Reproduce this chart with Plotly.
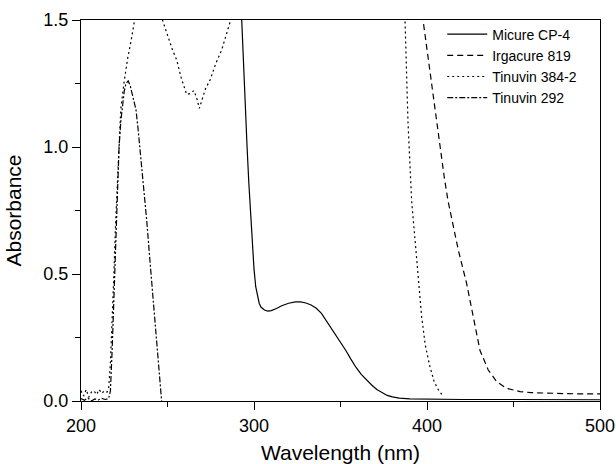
import plotly.graph_objects as go

# Micure CP-4 (solid)
micure_x = [280, 290, 292.9, 294, 295, 296, 297, 298, 299, 300, 301, 302, 303, 304, 306, 308, 310,
            313, 316, 320, 324, 327, 330, 333, 336, 339, 342, 345, 348, 350, 353, 356, 359, 362,
            365, 368, 371, 374, 377, 380, 384, 390, 400, 420, 450, 480, 500]
micure_y = [2.5, 1.8, 1.5, 1.3, 1.15, 1.0, 0.86, 0.74, 0.62, 0.52, 0.45, 0.41, 0.385, 0.37, 0.358,
            0.354, 0.356, 0.364, 0.375, 0.385, 0.39, 0.39, 0.386, 0.378, 0.365, 0.345, 0.315, 0.285,
            0.255, 0.235, 0.2, 0.165, 0.132, 0.105, 0.082, 0.063, 0.045, 0.032, 0.022, 0.016, 0.011,
            0.008, 0.007, 0.006, 0.006, 0.005, 0.005]

# Irgacure 819 (dashed)
irg_x = [380, 390, 397.7, 402, 406, 410, 412.1, 415, 418.1, 422.9, 426.8, 430.6, 435.4, 440.3,
         446, 453.8, 460, 469.2, 480, 490, 500]
irg_y = [2.5, 1.9, 1.5, 1.28, 1.08, 0.88, 0.79, 0.69, 0.594, 0.463, 0.332, 0.2, 0.122, 0.076,
         0.05, 0.037, 0.033, 0.03, 0.029, 0.028, 0.028]

# Tinuvin 384-2 (dotted)
t384_x = [200, 201.5, 203, 204.5, 206, 207.5, 209, 210.5, 212, 213.5, 215, 216, 217, 218, 219,
          220, 221, 222, 223, 225, 227, 229, 231, 233, 236, 240, 244, 247.2, 250, 253, 255.3,
          258, 261.1, 263, 265.3, 267, 268.4, 270, 272, 274.6, 278, 281.3, 284, 286.1, 288,
          291, 300, 350, 385, 387.3, 389, 391.1, 393.6, 396.9, 399, 401.7, 404, 406, 409.1]
t384_y = [0.04, 0.02, 0.045, 0.015, 0.035, 0.04, 0.025, 0.045, 0.03, 0.04, 0.035, 0.05, 0.15, 0.3,
          0.5, 0.7, 0.87, 1.02, 1.15, 1.26, 1.35, 1.42, 1.5, 1.58, 1.7, 1.75, 1.65, 1.497, 1.44,
          1.38, 1.343, 1.27, 1.207, 1.21, 1.222, 1.19, 1.152, 1.19, 1.23, 1.264, 1.33, 1.382,
          1.44, 1.49, 1.55, 1.7, 2.0, 2.0, 1.7, 1.5, 1.1, 0.79, 0.594, 0.332, 0.22, 0.135, 0.08,
          0.05, 0.021]

# Tinuvin 292 (dash-dot)
t292_x = [200, 202, 204, 206, 208, 210, 212, 214, 216, 217, 218, 219, 220, 221, 222, 223, 224,
          225, 226, 227.3, 228.5, 230, 231.8, 233, 234, 235, 236, 237, 238, 240, 242, 244, 246,
          246.6]
t292_y = [0.01, 0.003, 0.012, 0.0, 0.008, 0.004, 0.01, 0.006, 0.01, 0.04, 0.2, 0.42, 0.64, 0.85,
          1.0, 1.1, 1.17, 1.22, 1.25, 1.26, 1.24, 1.2, 1.146, 1.07, 1.0, 0.92, 0.85, 0.79, 0.71,
          0.54, 0.38, 0.21, 0.05, 0.0]

series = [
    ("Micure CP-4", micure_x, micure_y, "solid"),
    ("Irgacure 819", irg_x, irg_y, "6px,4px"),
    ("Tinuvin 384-2", t384_x, t384_y, "2px,3px"),
    ("Tinuvin 292", t292_x, t292_y, "6px,2px,2px,2px"),
]

fig = go.Figure()
for name, xs, ys, dash in series:
    fig.add_trace(go.Scatter(x=xs, y=ys, mode="lines", name=name,
                             line=dict(color="black", width=1.2, dash=dash)))

axis_common = dict(showline=True, linecolor="black", linewidth=1.3, mirror=True,
                   ticks="outside", ticklen=8, tickwidth=1.3, tickcolor="black",
                   showgrid=False, zeroline=False, automargin=False,
                   tickfont=dict(size=18, color="black"),
                   title_font=dict(size=21, color="black"))

fig.update_xaxes(range=[200, 500], tick0=200, dtick=100,
                 minor=dict(ticks="outside", ticklen=5, tickwidth=1.3, tickcolor="black",
                            tick0=200, dtick=50),
                 title_text="Wavelength (nm)", **axis_common)
fig.update_yaxes(range=[0, 1.5], tick0=0, dtick=0.5, tickformat=".1f",
                 minor=dict(ticks="outside", ticklen=5, tickwidth=1.3, tickcolor="black",
                            tick0=0, dtick=0.25),
                 title_text="Absorbance", **axis_common)

fig.update_layout(
    width=616, height=464,
    margin=dict(l=81, r=16, t=20, b=63, autoexpand=False),
    paper_bgcolor="white", plot_bgcolor="white",
    font=dict(family="Liberation Sans, Arial, sans-serif", color="black"),
    legend=dict(x=0.696, y=1.004, xanchor="left", yanchor="top",
                font=dict(size=14, color="black"), bgcolor="rgba(0,0,0,0)",
                tracegroupgap=0, itemwidth=40),
    showlegend=True,
)

fig.write_html("out.html", config={"displayModeBar": False},
               post_script="document.body.style.margin='0';document.body.style.overflow='hidden';")
